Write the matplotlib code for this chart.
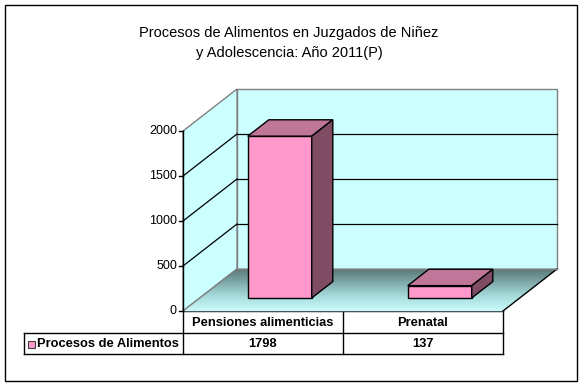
import numpy as np
import matplotlib
matplotlib.use('Agg')
import matplotlib.pyplot as plt
from matplotlib.patches import Polygon, Rectangle
from matplotlib.lines import Line2D
from matplotlib.transforms import Affine2D, IdentityTransform
from matplotlib.colors import LinearSegmentedColormap

# datos del grafico
categorias = ['Pensiones alimenticias', 'Prenatal']
procesos = [1798, 137]
serie = 'Procesos de Alimentos'
ticks_y = [0, 500, 1000, 1500, 2000]
titulo = 'Procesos de Alimentos en Juzgados de Niñez\ny Adolescencia: Año 2011(P)'

plt.rcParams['font.family'] = ['Liberation Sans', 'DejaVu Sans']

W, H = 584, 387
fig = plt.figure(figsize=(W / 100, H / 100), dpi=100)

def caja(x0, y0, x1, y1):
  # caja en pixeles (origen arriba izq) -> fraccion de figura
  return [x0 / W, 1 - y1 / H, (x1 - x0) / W, (y1 - y0) / H]

# capa de pixeles para borde, titulo y tabla
lay = fig.add_axes([0, 0, 1, 1], zorder=0)
lay.set_xlim(0, W)
lay.set_ylim(H, 0)
lay.axis('off')
lay.add_patch(Rectangle((5, 5), 572, 376, fill=False, ec='black', lw=1))
lay.text(289, 43, titulo, ha='center', va='center', fontsize=10.5,
         linespacing=1.55)

# ejes del plano frontal
ax = fig.add_axes(caja(183, 131, 503, 311), zorder=1)
n = len(categorias)
ax.set_xlim(0, n)
ax.set_ylim(0, ticks_y[-1])
ax.axis('off')
ax.patch.set_visible(False)

DX, DY = 54, 42   # profundidad en pixeles
fig.canvas.draw()

def proj(x, y, d):
  a, b = ax.transData.transform((x, y))
  return (a + d * DX, b + d * DY)

def poly(pts, z, **kw):
  p = Polygon([proj(*q) for q in pts], closed=True, transform=IdentityTransform(),
              clip_on=False, zorder=z, **kw)
  ax.add_artist(p)
  return p

def linea(p, q, z, **kw):
  a = proj(*p)
  b = proj(*q)
  ax.add_artist(Line2D([a[0], b[0]], [a[1], b[1]], transform=IdentityTransform(),
                       clip_on=False, zorder=z, **kw))

top = ticks_y[-1]
gris = '#808080'
# paredes
poly([(0, 0, 1), (n, 0, 1), (n, top, 1), (0, top, 1)], 1, fc='#CCFFFF', ec=gris, lw=1)
poly([(0, 0, 0), (0, 0, 1), (0, top, 1), (0, top, 0)], 1, fc='#CCFFFF', ec=gris, lw=1)
# piso con degradado (claro adelante, oscuro atras), en franjas
cmap = LinearSegmentedColormap.from_list(
  'piso', [(0, '#CCFAFA'), (0.35, '#A8DEDE'), (0.7, '#7FA8A8'), (1, '#5A7A7A')])
franjas = 42
for k in range(franjas):
  d0, d1 = k / franjas, (k + 1) / franjas
  c = cmap((k + 0.5) / franjas)
  poly([(0, 0, d0), (n, 0, d0), (n, 0, d1), (0, 0, d1)], 2, fc=c, ec=c, lw=0.5)
linea((n, 0, 0), (n, 0, 1), 3, color='black', lw=1)
linea((0, 0, 0), (0, 0, 1), 3, color=gris, lw=1)
linea((0, 0, 1), (n, 0, 1), 3, color=gris, lw=1)

# lineas de division
for t in ticks_y[1:-1]:
  linea((0, t, 0), (0, t, 1), 3, color='black', lw=0.9)
  linea((0, t, 1), (n, t, 1), 3, color='black', lw=0.9)

# eje y
linea((0, 0, 0), (0, top, 0), 5, color='black', lw=1)
for t in ticks_y:
  a, b = proj(0, t, 0)
  ax.add_artist(Line2D([a - 4, a], [b, b], transform=IdentityTransform(),
                       clip_on=False, color='black', lw=1, zorder=5))
  ax.text(a - 6, b, str(t), transform=IdentityTransform(), ha='right',
          va='center', fontsize=9)

# barras
ancho = 0.4
f1, f2 = 0.31, 0.70
centros = np.arange(n) + 0.5
ax.bar(centros, procesos, width=ancho, color='#FF99CC', edgecolor='black',
       linewidth=1, zorder=6, clip_on=False,
       transform=ax.transData + Affine2D().translate(f1 * DX, f1 * DY))
for c, v in zip(centros, procesos):
  x0, x1 = c - ancho / 2, c + ancho / 2
  poly([(x0, v, f1), (x1, v, f1), (x1, v, f2), (x0, v, f2)], 6,
       fc='#C07698', ec='black', lw=1)
  poly([(x1, 0, f1), (x1, v, f1), (x1, v, f2), (x1, 0, f2)], 6,
       fc='#804C64', ec='black', lw=1)

# tabla de datos
fy0, fy1, fy2 = 311, 333, 354
col = [proj(i, 0, 0)[0] for i in range(n + 1)]
leg_x = 24
lay.plot([col[0], col[-1]], [fy0, fy0], color='black', lw=1)
lay.plot([leg_x, col[-1]], [fy1, fy1], color='black', lw=1)
lay.plot([leg_x, col[-1]], [fy2, fy2], color='black', lw=1)
lay.plot([leg_x, leg_x], [fy1, fy2], color='black', lw=1)
for xc in col:
  lay.plot([xc, xc], [fy0, fy2], color='black', lw=1)
for i, (cat, v) in enumerate(zip(categorias, procesos)):
  xm = (col[i] + col[i + 1]) / 2
  lay.text(xm, (fy0 + fy1) / 2 + 0.5, cat, ha='center', va='center',
           fontsize=9.3, fontweight='bold')
  lay.text(xm, (fy1 + fy2) / 2 + 0.5, str(v), ha='center', va='center',
           fontsize=9.3, fontweight='bold')
lay.add_patch(Rectangle((28, 341), 7, 7, fc='#FF99CC', ec='#404040', lw=0.8))
lay.text(37, (fy1 + fy2) / 2 + 0.5, serie, ha='left', va='center',
         fontsize=9.3, fontweight='bold')

fig.savefig('out.png', dpi=100)
